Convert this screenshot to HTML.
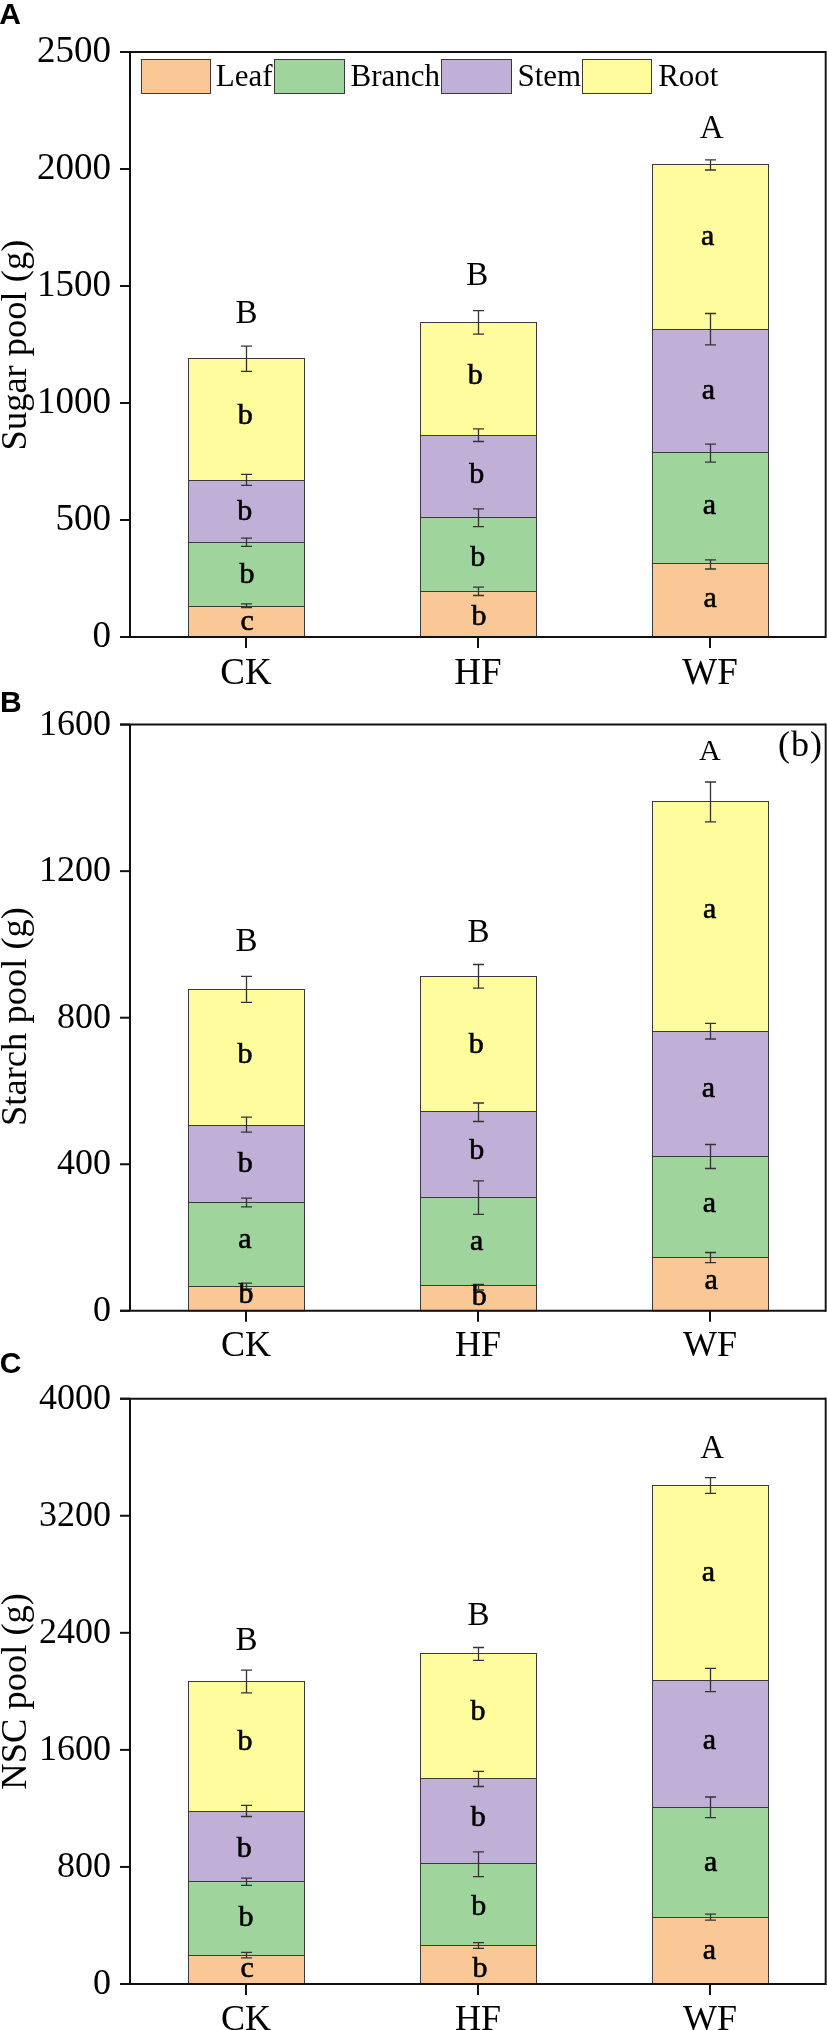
<!DOCTYPE html>
<html><head><meta charset="utf-8"><style>
html,body{margin:0;padding:0;background:#fff;width:827px;height:2030px;overflow:hidden}
svg{display:block;will-change:transform}
text{font-family:"Liberation Serif",serif;fill:#000}
.tick{text-anchor:end}
.xl{text-anchor:middle}
.yt{font-size:36.5px;text-anchor:middle}
.sig{text-anchor:middle}
.sig2{font-size:36px;letter-spacing:1px}
.let{font-size:30px;text-anchor:middle;stroke:#000;stroke-width:0.6px}
.leg{font-size:31px}
.pl{font-family:"Liberation Sans",sans-serif;font-weight:bold;font-size:30px}
</style></head><body>
<svg width="827" height="2030" viewBox="0 0 827 2030">
<rect width="827" height="2030" fill="#fff"/>
<rect x="188.5" y="606.5" width="116" height="30.5" fill="#FAC896" stroke="#3a3a3a" stroke-width="1"/>
<rect x="188.5" y="542.5" width="116" height="64" fill="#9FD49C" stroke="#3a3a3a" stroke-width="1"/>
<rect x="188.5" y="480.5" width="116" height="62" fill="#C0B0D7" stroke="#3a3a3a" stroke-width="1"/>
<rect x="188.5" y="358.5" width="116" height="122" fill="#FFFC9D" stroke="#3a3a3a" stroke-width="1"/>
<path d="M246.5 603.9V607.7M241 603.9H252M241 607.7H252" stroke="#333" stroke-width="1.3" fill="none"/>
<path d="M246.5 538.2V546.3M241 538.2H252M241 546.3H252" stroke="#333" stroke-width="1.3" fill="none"/>
<path d="M246.5 474.4V485.4M241 474.4H252M241 485.4H252" stroke="#333" stroke-width="1.3" fill="none"/>
<path d="M246.5 346.1V371.3M241 346.1H252M241 371.3H252" stroke="#333" stroke-width="1.3" fill="none"/>
<text x="247.15" y="629.9" class="let">c</text>
<text x="246.9" y="583.1" class="let">b</text>
<text x="244.85" y="519.7" class="let">b</text>
<text x="245.15" y="424" class="let">b</text>
<text x="246.45" y="323" class="sig" font-size="33">B</text>
<rect x="420.5" y="591.5" width="116" height="45.5" fill="#FAC896" stroke="#3a3a3a" stroke-width="1"/>
<rect x="420.5" y="517.5" width="116" height="74" fill="#9FD49C" stroke="#3a3a3a" stroke-width="1"/>
<rect x="420.5" y="435.5" width="116" height="82" fill="#C0B0D7" stroke="#3a3a3a" stroke-width="1"/>
<rect x="420.5" y="322.5" width="116" height="113" fill="#FFFC9D" stroke="#3a3a3a" stroke-width="1"/>
<path d="M478.5 587.2V595.5M473 587.2H484M473 595.5H484" stroke="#333" stroke-width="1.3" fill="none"/>
<path d="M478.5 508.9V526.6M473 508.9H484M473 526.6H484" stroke="#333" stroke-width="1.3" fill="none"/>
<path d="M478.5 428.9V441.5M473 428.9H484M473 441.5H484" stroke="#333" stroke-width="1.3" fill="none"/>
<path d="M478.5 310.6V334.2M473 310.6H484M473 334.2H484" stroke="#333" stroke-width="1.3" fill="none"/>
<text x="479" y="624.5" class="let">b</text>
<text x="477.85" y="565.7" class="let">b</text>
<text x="476.8" y="482.7" class="let">b</text>
<text x="475.15" y="383.9" class="let">b</text>
<text x="477.35" y="284.9" class="sig" font-size="33">B</text>
<rect x="652.5" y="563.5" width="116" height="73.5" fill="#FAC896" stroke="#3a3a3a" stroke-width="1"/>
<rect x="652.5" y="452.5" width="116" height="111" fill="#9FD49C" stroke="#3a3a3a" stroke-width="1"/>
<rect x="652.5" y="329.5" width="116" height="123" fill="#C0B0D7" stroke="#3a3a3a" stroke-width="1"/>
<rect x="652.5" y="164.5" width="116" height="165" fill="#FFFC9D" stroke="#3a3a3a" stroke-width="1"/>
<path d="M710.5 559.8V569M705 559.8H716M705 569H716" stroke="#333" stroke-width="1.3" fill="none"/>
<path d="M710.5 444.1V462.1M705 444.1H716M705 462.1H716" stroke="#333" stroke-width="1.3" fill="none"/>
<path d="M710.5 313.5V344.9M705 313.5H716M705 344.9H716" stroke="#333" stroke-width="1.3" fill="none"/>
<path d="M710.5 159.9V170M705 159.9H716M705 170H716" stroke="#333" stroke-width="1.3" fill="none"/>
<text x="710.1" y="607" class="let">a</text>
<text x="709.45" y="514.4" class="let">a</text>
<text x="708.35" y="398.7" class="let">a</text>
<text x="707.55" y="245.2" class="let">a</text>
<text x="711.6" y="137.7" class="sig" font-size="33">A</text>
<rect x="824" y="51" width="1" height="587" fill="#bbb"/>
<rect x="825" y="51" width="1" height="587" fill="#111"/>
<rect x="826" y="51" width="1" height="587" fill="#666"/>
<path d="M130 52V637M120 637H826M120 52H826" stroke="#111" stroke-width="2" fill="none"/>
<path d="M120 637H130" stroke="#111" stroke-width="2"/>
<text x="111" y="647" class="tick" font-size="37">0</text>
<path d="M120 520H130" stroke="#111" stroke-width="2"/>
<text x="111" y="530" class="tick" font-size="37">500</text>
<path d="M120 403H130" stroke="#111" stroke-width="2"/>
<text x="111" y="413" class="tick" font-size="37">1000</text>
<path d="M120 286H130" stroke="#111" stroke-width="2"/>
<text x="111" y="296" class="tick" font-size="37">1500</text>
<path d="M120 169H130" stroke="#111" stroke-width="2"/>
<text x="111" y="179" class="tick" font-size="37">2000</text>
<path d="M120 52H130" stroke="#111" stroke-width="2"/>
<text x="111" y="62" class="tick" font-size="37">2500</text>
<path d="M246 637V648" stroke="#111" stroke-width="2"/>
<text x="246" y="683.5" class="xl" font-size="37">CK</text>
<path d="M478 637V648" stroke="#111" stroke-width="2"/>
<text x="478" y="683.5" class="xl" font-size="37">HF</text>
<path d="M710 637V648" stroke="#111" stroke-width="2"/>
<text x="710" y="683.5" class="xl" font-size="37">WF</text>
<text transform="translate(26 345) rotate(-90)" class="yt">Sugar pool (g)</text>
<text x="-0.8" y="23.9" class="pl">A</text>
<rect x="188.5" y="1286.5" width="116" height="24.3" fill="#FAC896" stroke="#3a3a3a" stroke-width="1"/>
<rect x="188.5" y="1202.5" width="116" height="84" fill="#9FD49C" stroke="#3a3a3a" stroke-width="1"/>
<rect x="188.5" y="1125.5" width="116" height="77" fill="#C0B0D7" stroke="#3a3a3a" stroke-width="1"/>
<rect x="188.5" y="989.5" width="116" height="136" fill="#FFFC9D" stroke="#3a3a3a" stroke-width="1"/>
<path d="M246.5 1283.1V1289M241 1283.1H252M241 1289H252" stroke="#333" stroke-width="1.3" fill="none"/>
<path d="M246.5 1198.2V1206.9M241 1198.2H252M241 1206.9H252" stroke="#333" stroke-width="1.3" fill="none"/>
<path d="M246.5 1117.1V1132.2M241 1117.1H252M241 1132.2H252" stroke="#333" stroke-width="1.3" fill="none"/>
<path d="M246.5 976.3V1002.3M241 976.3H252M241 1002.3H252" stroke="#333" stroke-width="1.3" fill="none"/>
<text x="246" y="1302.8" class="let">b</text>
<text x="244.8" y="1248" class="let">a</text>
<text x="245.15" y="1171.8" class="let">b</text>
<text x="244.9" y="1062.8" class="let">b</text>
<text x="246.55" y="950.9" class="sig" font-size="33">B</text>
<rect x="420.5" y="1285.5" width="116" height="25.3" fill="#FAC896" stroke="#3a3a3a" stroke-width="1"/>
<rect x="420.5" y="1197.5" width="116" height="88" fill="#9FD49C" stroke="#3a3a3a" stroke-width="1"/>
<rect x="420.5" y="1111.5" width="116" height="86" fill="#C0B0D7" stroke="#3a3a3a" stroke-width="1"/>
<rect x="420.5" y="976.5" width="116" height="135" fill="#FFFC9D" stroke="#3a3a3a" stroke-width="1"/>
<path d="M478.5 1284.3V1290M473 1284.3H484M473 1290H484" stroke="#333" stroke-width="1.3" fill="none"/>
<path d="M478.5 1180.8V1214.4M473 1180.8H484M473 1214.4H484" stroke="#333" stroke-width="1.3" fill="none"/>
<path d="M478.5 1103V1121.5M473 1103H484M473 1121.5H484" stroke="#333" stroke-width="1.3" fill="none"/>
<path d="M478.5 964.5V988.2M473 964.5H484M473 988.2H484" stroke="#333" stroke-width="1.3" fill="none"/>
<text x="479.35" y="1304.6" class="let">b</text>
<text x="476.6" y="1250.1" class="let">a</text>
<text x="476.7" y="1159.2" class="let">b</text>
<text x="476.15" y="1052.7" class="let">b</text>
<text x="478.4" y="941.9" class="sig" font-size="33">B</text>
<rect x="652.5" y="1257.5" width="116" height="53.3" fill="#FAC896" stroke="#3a3a3a" stroke-width="1"/>
<rect x="652.5" y="1156.5" width="116" height="101" fill="#9FD49C" stroke="#3a3a3a" stroke-width="1"/>
<rect x="652.5" y="1031.5" width="116" height="125" fill="#C0B0D7" stroke="#3a3a3a" stroke-width="1"/>
<rect x="652.5" y="801.5" width="116" height="230" fill="#FFFC9D" stroke="#3a3a3a" stroke-width="1"/>
<path d="M710.5 1252.5V1262.7M705 1252.5H716M705 1262.7H716" stroke="#333" stroke-width="1.3" fill="none"/>
<path d="M710.5 1144.5V1168.5M705 1144.5H716M705 1168.5H716" stroke="#333" stroke-width="1.3" fill="none"/>
<path d="M710.5 1023.3V1039M705 1023.3H716M705 1039H716" stroke="#333" stroke-width="1.3" fill="none"/>
<path d="M710.5 782V821.9M705 782H716M705 821.9H716" stroke="#333" stroke-width="1.3" fill="none"/>
<text x="711.25" y="1289.3" class="let">a</text>
<text x="709.45" y="1212.2" class="let">a</text>
<text x="708.35" y="1096.8" class="let">a</text>
<text x="709.55" y="918.1" class="let">a</text>
<text x="709.85" y="760.4" class="sig" font-size="30">A</text>
<rect x="824" y="723.6" width="1" height="588.2" fill="#bbb"/>
<rect x="825" y="723.6" width="1" height="588.2" fill="#111"/>
<rect x="826" y="723.6" width="1" height="588.2" fill="#666"/>
<path d="M130 724.6V1310.8M120 1310.8H826M120 724.6H826" stroke="#111" stroke-width="2" fill="none"/>
<path d="M120 1310.8H130" stroke="#111" stroke-width="2"/>
<text x="111" y="1320.8" class="tick" font-size="36">0</text>
<path d="M120 1164.25H130" stroke="#111" stroke-width="2"/>
<text x="111" y="1174.25" class="tick" font-size="36">400</text>
<path d="M120 1017.7H130" stroke="#111" stroke-width="2"/>
<text x="111" y="1027.7" class="tick" font-size="36">800</text>
<path d="M120 871.15H130" stroke="#111" stroke-width="2"/>
<text x="111" y="881.15" class="tick" font-size="36">1200</text>
<path d="M120 724.6H130" stroke="#111" stroke-width="2"/>
<text x="111" y="734.6" class="tick" font-size="36">1600</text>
<path d="M246 1310.8V1321.8" stroke="#111" stroke-width="2"/>
<text x="246" y="1356.3" class="xl" font-size="36">CK</text>
<path d="M478 1310.8V1321.8" stroke="#111" stroke-width="2"/>
<text x="478" y="1356.3" class="xl" font-size="36">HF</text>
<path d="M710 1310.8V1321.8" stroke="#111" stroke-width="2"/>
<text x="710" y="1356.3" class="xl" font-size="36">WF</text>
<text transform="translate(26 1016.5) rotate(-90)" class="yt">Starch pool (g)</text>
<text x="0" y="711.7" class="pl">B</text>
<rect x="188.5" y="1955.5" width="116" height="28.5" fill="#FAC896" stroke="#3a3a3a" stroke-width="1"/>
<rect x="188.5" y="1881.5" width="116" height="74" fill="#9FD49C" stroke="#3a3a3a" stroke-width="1"/>
<rect x="188.5" y="1811.5" width="116" height="70" fill="#C0B0D7" stroke="#3a3a3a" stroke-width="1"/>
<rect x="188.5" y="1681.5" width="116" height="130" fill="#FFFC9D" stroke="#3a3a3a" stroke-width="1"/>
<path d="M246.5 1952.4V1957.8M241 1952.4H252M241 1957.8H252" stroke="#333" stroke-width="1.3" fill="none"/>
<path d="M246.5 1878.2V1885.3M241 1878.2H252M241 1885.3H252" stroke="#333" stroke-width="1.3" fill="none"/>
<path d="M246.5 1805.4V1816.5M241 1805.4H252M241 1816.5H252" stroke="#333" stroke-width="1.3" fill="none"/>
<path d="M246.5 1670.2V1692.8M241 1670.2H252M241 1692.8H252" stroke="#333" stroke-width="1.3" fill="none"/>
<text x="247.05" y="1976.5" class="let">c</text>
<text x="246" y="1926.4" class="let">b</text>
<text x="244.15" y="1856.8" class="let">b</text>
<text x="245.1" y="1750.3" class="let">b</text>
<text x="246.45" y="1649.9" class="sig" font-size="33">B</text>
<rect x="420.5" y="1945.5" width="116" height="38.5" fill="#FAC896" stroke="#3a3a3a" stroke-width="1"/>
<rect x="420.5" y="1863.5" width="116" height="82" fill="#9FD49C" stroke="#3a3a3a" stroke-width="1"/>
<rect x="420.5" y="1778.5" width="116" height="85" fill="#C0B0D7" stroke="#3a3a3a" stroke-width="1"/>
<rect x="420.5" y="1653.5" width="116" height="125" fill="#FFFC9D" stroke="#3a3a3a" stroke-width="1"/>
<path d="M478.5 1942.6V1948.4M473 1942.6H484M473 1948.4H484" stroke="#333" stroke-width="1.3" fill="none"/>
<path d="M478.5 1851.9V1876.7M473 1851.9H484M473 1876.7H484" stroke="#333" stroke-width="1.3" fill="none"/>
<path d="M478.5 1771.3V1786.5M473 1771.3H484M473 1786.5H484" stroke="#333" stroke-width="1.3" fill="none"/>
<path d="M478.5 1647.5V1660.3M473 1647.5H484M473 1660.3H484" stroke="#333" stroke-width="1.3" fill="none"/>
<text x="479.9" y="1977.1" class="let">b</text>
<text x="478.85" y="1915.3" class="let">b</text>
<text x="478.2" y="1825.7" class="let">b</text>
<text x="478" y="1719.9" class="let">b</text>
<text x="478.4" y="1624.9" class="sig" font-size="33">B</text>
<rect x="652.5" y="1917.5" width="116" height="66.5" fill="#FAC896" stroke="#3a3a3a" stroke-width="1"/>
<rect x="652.5" y="1807.5" width="116" height="110" fill="#9FD49C" stroke="#3a3a3a" stroke-width="1"/>
<rect x="652.5" y="1680.5" width="116" height="127" fill="#C0B0D7" stroke="#3a3a3a" stroke-width="1"/>
<rect x="652.5" y="1485.5" width="116" height="195" fill="#FFFC9D" stroke="#3a3a3a" stroke-width="1"/>
<path d="M710.5 1914.1V1920.2M705 1914.1H716M705 1920.2H716" stroke="#333" stroke-width="1.3" fill="none"/>
<path d="M710.5 1797V1817.6M705 1797H716M705 1817.6H716" stroke="#333" stroke-width="1.3" fill="none"/>
<path d="M710.5 1668.4V1691.7M705 1668.4H716M705 1691.7H716" stroke="#333" stroke-width="1.3" fill="none"/>
<path d="M710.5 1477.7V1493.4M705 1477.7H716M705 1493.4H716" stroke="#333" stroke-width="1.3" fill="none"/>
<text x="709.45" y="1959" class="let">a</text>
<text x="710.7" y="1871.2" class="let">a</text>
<text x="709.3" y="1749.2" class="let">a</text>
<text x="708.5" y="1580.6" class="let">a</text>
<text x="712.2" y="1457.9" class="sig" font-size="33">A</text>
<rect x="824" y="1397.7" width="1" height="587.3" fill="#bbb"/>
<rect x="825" y="1397.7" width="1" height="587.3" fill="#111"/>
<rect x="826" y="1397.7" width="1" height="587.3" fill="#666"/>
<path d="M130 1398.7V1984M120 1984H826M120 1398.7H826" stroke="#111" stroke-width="2" fill="none"/>
<path d="M120 1984H130" stroke="#111" stroke-width="2"/>
<text x="111" y="1994" class="tick" font-size="36">0</text>
<path d="M120 1866.94H130" stroke="#111" stroke-width="2"/>
<text x="111" y="1876.94" class="tick" font-size="36">800</text>
<path d="M120 1749.88H130" stroke="#111" stroke-width="2"/>
<text x="111" y="1759.88" class="tick" font-size="36">1600</text>
<path d="M120 1632.82H130" stroke="#111" stroke-width="2"/>
<text x="111" y="1642.82" class="tick" font-size="36">2400</text>
<path d="M120 1515.76H130" stroke="#111" stroke-width="2"/>
<text x="111" y="1525.76" class="tick" font-size="36">3200</text>
<path d="M120 1398.7H130" stroke="#111" stroke-width="2"/>
<text x="111" y="1408.7" class="tick" font-size="36">4000</text>
<path d="M246 1984V1995" stroke="#111" stroke-width="2"/>
<text x="246" y="2029.5" class="xl" font-size="36">CK</text>
<path d="M478 1984V1995" stroke="#111" stroke-width="2"/>
<text x="478" y="2029.5" class="xl" font-size="36">HF</text>
<path d="M710 1984V1995" stroke="#111" stroke-width="2"/>
<text x="710" y="2029.5" class="xl" font-size="36">WF</text>
<text transform="translate(26 1691.35) rotate(-90)" class="yt">NSC pool (g)</text>
<text x="-0.3" y="1373.2" class="pl">C</text>
<rect x="141.5" y="59.5" width="69" height="34" fill="#FAC896" stroke="#3a3a3a" stroke-width="1"/>
<text x="215.8" y="86.3" class="leg">Leaf</text>
<rect x="274.5" y="59.5" width="70" height="34" fill="#9FD49C" stroke="#3a3a3a" stroke-width="1"/>
<text x="350.6" y="86.3" class="leg">Branch</text>
<rect x="441.5" y="59.5" width="70" height="34" fill="#C0B0D7" stroke="#3a3a3a" stroke-width="1"/>
<text x="517.4" y="86.3" class="leg">Stem</text>
<rect x="582.5" y="59.5" width="69" height="34" fill="#FFFC9D" stroke="#3a3a3a" stroke-width="1"/>
<text x="658.2" y="86.3" class="leg">Root</text>
<text x="778" y="755.5" class="sig2">(b)</text>
</svg>
</body></html>
